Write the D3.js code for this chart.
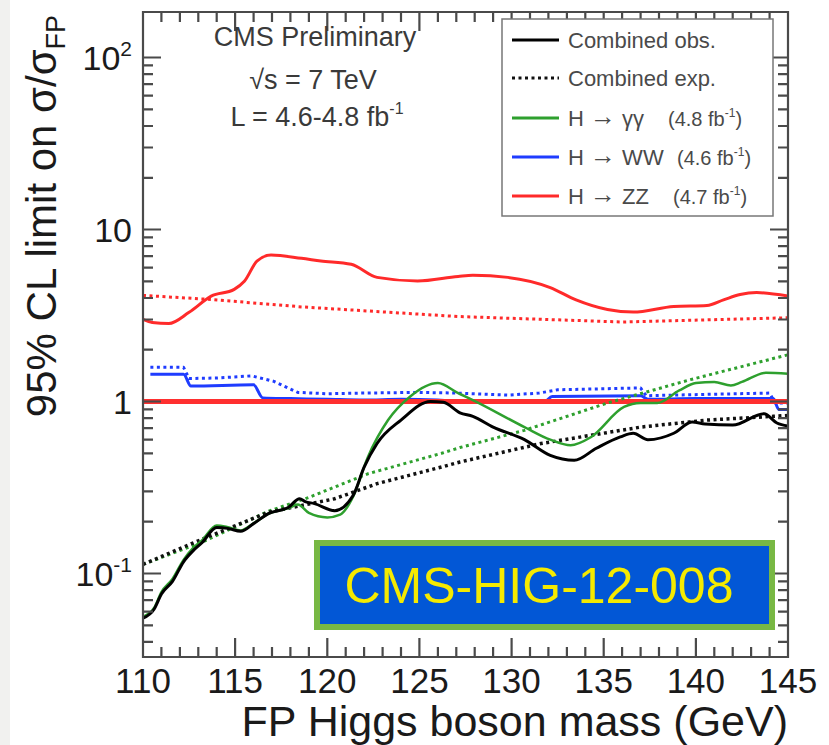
<!DOCTYPE html>
<html>
<head>
<meta charset="utf-8">
<script src="https://cdn.jsdelivr.net/npm/d3@7"></script>
<style>
  body { margin: 0; background: #fff; }
  svg { display: block; font-family: "Liberation Sans", Arial, Helvetica, sans-serif; }
</style>
</head>
<body>
<svg id="chart" width="829" height="745"></svg>
<script>
'use strict';

// mass points and 95% CL limits
var combObs = [[110,0.055],[110.6,0.062],[111,0.076],[111.6,0.09],[112.2,0.117],[112.7,0.135],[113.2,0.151],[114,0.185],[114.6,0.183],[115.3,0.176],[116,0.195],[116.8,0.223],[117.9,0.243],[118.5,0.272],[118.8,0.262],[119.3,0.255],[120.4,0.232],[121.4,0.284],[122,0.415],[122.7,0.57],[124,0.78],[125.6,1.0],[126.3,0.99],[127.2,0.86],[127.9,0.82],[129,0.71],[130.7,0.6],[132.1,0.486],[133.4,0.455],[134.6,0.535],[135.9,0.623],[136.6,0.654],[137.4,0.6],[138.8,0.654],[139.8,0.76],[140.5,0.74],[142,0.73],[143.7,0.85],[144.4,0.75],[145,0.72]];
var combExp = [[110,0.113],[113,0.155],[116.8,0.227],[120.4,0.272],[122.7,0.333],[126.2,0.416],[127.2,0.445],[131.6,0.57],[137,0.71],[140.6,0.78],[144.2,0.82],[145,0.83]];
var ggObs = [[110,0.056],[110.6,0.063],[111,0.078],[111.6,0.093],[112.2,0.12],[112.7,0.14],[113.2,0.156],[114,0.19],[114.6,0.186],[115.3,0.178],[116,0.196],[116.8,0.222],[117.9,0.24],[118.4,0.252],[119,0.225],[120,0.212],[120.7,0.22],[121.4,0.28],[122.2,0.475],[123.3,0.78],[124.5,1.07],[126,1.28],[127.1,1.12],[127.9,1.02],[130.7,0.71],[132.1,0.6],[133.2,0.557],[134.3,0.62],[136.1,0.93],[137,0.98],[137.9,0.98],[139.1,1.16],[140,1.28],[141,1.3],[141.9,1.24],[142.5,1.3],[143.8,1.47],[145,1.45]];
var ggExp = [[110,0.113],[113.2,0.152],[116.8,0.23],[119,0.277],[122.2,0.38],[126.2,0.5],[127.2,0.54],[130.7,0.68],[135.2,0.98],[139.7,1.34],[145,1.87]];
var wwObs = [[110.4,1.44],[112.2,1.44],[112.6,1.23],[116,1.25],[116.5,1.05],[118,1.04],[120,1.03],[122,1.02],[124,1.03],[126,1.02],[128,0.99],[130,0.99],[131.8,1.0],[132.2,1.07],[137,1.08],[137.4,1.03],[140,1.04],[144.2,1.04],[144.5,0.9],[145,0.9]];
var wwExp = [[110.4,1.58],[112.2,1.58],[112.5,1.36],[114,1.37],[115.9,1.41],[117.1,1.31],[118.4,1.13],[120,1.11],[122,1.12],[125,1.13],[127,1.12],[129.8,1.09],[131.5,1.12],[132.5,1.17],[137,1.2],[137.3,1.08],[138.8,1.09],[144,1.12],[144.3,0.98],[145,0.98]];
var zzObs = [[110,3.0],[110.5,2.88],[111.4,2.84],[112.5,3.3],[113.7,4.1],[114.95,4.49],[115.5,5.0],[116.2,6.57],[116.95,7.1],[118.6,6.8],[119.65,6.57],[121.3,6.28],[122.7,5.27],[124.9,5.02],[127.1,5.34],[127.9,5.42],[129.8,5.27],[132.1,4.6],[133.5,3.9],[135.2,3.43],[136.6,3.31],[138.8,3.57],[140.6,3.62],[141.5,3.9],[142.4,4.19],[143.3,4.3],[145,4.1]];
var zzExp = [[110,4.14],[113.7,3.92],[118.6,3.55],[127.1,3.12],[136,2.9],[145,3.07]];
var smLine = [[110,1],[145,1]];

var xMajorTicks = [110,115,120,125,130,135,140,145];
var xMinorTicks = [111,112,113,114,116,117,118,119,121,122,123,124,126,127,128,129,131,132,133,134,136,137,138,139,141,142,143,144];
var yMajorTicks = [0.1,1,10,100];
var yMinorTicks = [0.04,0.05,0.06,0.07,0.08,0.09,0.2,0.3,0.4,0.5,0.6,0.7,0.8,0.9,2,3,4,5,6,7,8,9,20,30,40,50,60,70,80,90];
var yTickLabels = [['10','-1'],['1',''],['10',''],['10','2']];

var legendLabels = ['Combined obs.','Combined exp.','H \u2192 \u03b3\u03b3','H \u2192 WW','H \u2192 ZZ'];
var legendLumi = ['','','(4.8 fb','(4.6 fb','(4.7 fb'];

var svg = d3.select('#chart');

var nLeft = 143, nRight = 788, nTop = 12, nBottom = 657;

var x = d3.scaleLinear().domain([110,145]).range([nLeft,nRight]);
var y = d3.scaleLog().domain([0.0327,184]).range([nBottom,nTop]);

svg.append('rect').attr('x',0).attr('y',0).attr('width',10).attr('height',745).attr('fill','#f1f1ef');

var defs = svg.append('defs');
defs.append('clipPath').attr('id','plotclip')
	.append('rect').attr('x',nLeft).attr('y',nTop).attr('width',nRight-nLeft).attr('height',nBottom-nTop);

var plot = svg.append('g').attr('clip-path','url(#plotclip)');

var series = [
	{data: zzExp, color: '#ff2a2a', dash: '3,3.5', width: 3},
	{data: zzObs, color: '#ff2a2a', dash: null, width: 3},
	{data: wwExp, color: '#1f3cff', dash: '3,3.5', width: 3},
	{data: wwObs, color: '#1f3cff', dash: null, width: 3},
	{data: smLine, color: '#ff2f2f', dash: null, width: 5},
	{data: ggExp, color: '#2ea02e', dash: '3,3.5', width: 3},
	{data: combExp, color: '#111', dash: '3,3.5', width: 3.5},
	{data: ggObs, color: '#2ea02e', dash: null, width: 2.5},
	{data: combObs, color: '#000', dash: null, width: 3}
];

series.forEach(function(s) {
	var lineGen = d3.line()
		.x(function(d) { return x(d[0]); })
		.y(function(d) { return y(d[1]); })
		.curve(s.dash ? d3.curveLinear : d3.curveMonotoneX);
	plot.append('path')
		.datum(s.data)
		.attr('fill','none')
		.attr('stroke',s.color)
		.attr('stroke-width',s.width)
		.attr('stroke-dasharray',s.dash)
		.attr('stroke-linejoin','round')
		.attr('d',lineGen);
});

// frame and inward ticks on all four sides, as one path
var frame = d3.path();
frame.rect(nLeft, nTop, nRight-nLeft, nBottom-nTop);

function addTicks(values, fnPos, bHoriz, nBase, nLen) {
	values.forEach(function(v) {
		var c = Math.round(fnPos(v)*10)/10;
		if (!isFinite(c)) return;
		if (bHoriz) { frame.moveTo(c, nBase); frame.lineTo(c, nBase + nLen); }
		else { frame.moveTo(nBase, c); frame.lineTo(nBase + nLen, c); }
	});
}
addTicks(xMajorTicks, x, true, nBottom, -19);
addTicks(xMinorTicks, x, true, nBottom, -10);
addTicks(xMajorTicks, x, true, nTop, 19);
addTicks(xMinorTicks, x, true, nTop, 10);
addTicks(yMajorTicks, y, false, nLeft, 18);
addTicks(yMinorTicks, y, false, nLeft, 10);
addTicks(yMajorTicks, y, false, nRight, -18);
addTicks(yMinorTicks, y, false, nRight, -10);

svg.append('path')
	.attr('d', frame.toString())
	.attr('fill','none')
	.attr('stroke','#4a4a4a')
	.attr('stroke-width',2.2);

// tick labels
svg.selectAll('text.xlab')
	.data(xMajorTicks)
	.enter()
	.append('text')
	.attr('class','xlab')
	.attr('x',function(d) { return x(d); })
	.attr('y',693)
	.attr('text-anchor','middle')
	.attr('font-size',35)
	.attr('fill','#1a1a1a')
	.text(function(d) { return d; });

var yLab = svg.selectAll('text.ylab')
	.data(yMajorTicks)
	.enter()
	.append('text')
	.attr('class','ylab')
	.attr('x',132)
	.attr('y',function(d) { return y(d) + 12; })
	.attr('text-anchor','end')
	.attr('font-size',34)
	.attr('fill','#1a1a1a');
yLab.each(function(d, i) {
	var t = d3.select(this);
	t.append('tspan').text(yTickLabels[i][0]);
	if (yTickLabels[i][1] != '')
		t.append('tspan').attr('font-size',21).attr('dy',-14).text(yTickLabels[i][1]);
});

// axis titles
svg.append('text')
	.attr('x',nRight).attr('y',736)
	.attr('text-anchor','end')
	.attr('font-size',43)
	.attr('fill','#1a1a1a')
	.text('FP Higgs boson mass (GeV)');

var yTitle = svg.append('text')
	.attr('transform','translate(56,216) rotate(-90)')
	.attr('text-anchor','middle')
	.attr('font-size',42)
	.attr('fill','#1a1a1a');
yTitle.append('tspan').text('95% CL limit on \u03c3/\u03c3');
yTitle.append('tspan').attr('font-size',27).attr('dy',9).text('FP');

// CMS label
var labelColor = '#3a3a3a';
svg.append('text').attr('x',315).attr('y',46).attr('text-anchor','middle')
	.attr('font-size',27).attr('fill',labelColor).text('CMS Preliminary');
svg.append('text').attr('x',313).attr('y',89).attr('text-anchor','middle')
	.attr('font-size',27).attr('fill',labelColor).text('\u221As = 7 TeV');
var lumi = svg.append('text').attr('x',317).attr('y',126).attr('text-anchor','middle')
	.attr('font-size',27).attr('fill',labelColor);
lumi.append('tspan').text('L = 4.6-4.8 fb');
lumi.append('tspan').attr('font-size',16).attr('dy',-12).text('-1');

// legend
svg.append('rect')
	.attr('x',502).attr('y',19).attr('width',271).attr('height',197)
	.attr('fill','#fff').attr('stroke','#777').attr('stroke-width',1.5);

var legendStyles = [series[8], series[6], series[7], series[3], series[1]];
var legendY = [40, 78, 118, 157, 196];
var lumiX = [0, 0, 668, 677, 673];

legendLabels.forEach(function(strLabel, i) {
	var s = legendStyles[i];
	svg.append('line')
		.attr('x1',512).attr('x2',559)
		.attr('y1',legendY[i]).attr('y2',legendY[i])
		.attr('stroke',s.color).attr('stroke-width',3)
		.attr('stroke-dasharray',s.dash);
	var t0 = svg.append('text')
		.attr('x',568).attr('y',legendY[i]+8)
		.attr('font-size',22).attr('fill','#4a4a4a');
	var parts = strLabel.split(' \u2192 ');
	if (parts.length == 2)
	{
		t0.append('tspan').text(parts[0]+' ');
		t0.append('tspan').attr('font-size',26).attr('dy',-1).text('\u2192');
		t0.append('tspan').attr('dy',1).text(' '+parts[1]);
	}
	else
	{
		t0.text(strLabel);
	}
	if (legendLumi[i] != '')
	{
		var t = svg.append('text')
			.attr('x',lumiX[i]).attr('y',legendY[i]+8)
			.attr('font-size',20).attr('fill','#4a4a4a');
		t.append('tspan').text(legendLumi[i]);
		t.append('tspan').attr('font-size',12).attr('dy',-9).text('-1');
		t.append('tspan').attr('dy',9).text(')');
	}
});

// analysis tag
svg.append('rect')
	.attr('x',317).attr('y',543).attr('width',455).attr('height',84)
	.attr('fill','#0257d6').attr('stroke','#78b844').attr('stroke-width',6);
svg.append('text')
	.attr('x',539).attr('y',603)
	.attr('text-anchor','middle')
	.attr('font-size',50)
	.attr('fill','#f5ea00')
	.text('CMS-HIG-12-008');
</script>
</body>
</html>
